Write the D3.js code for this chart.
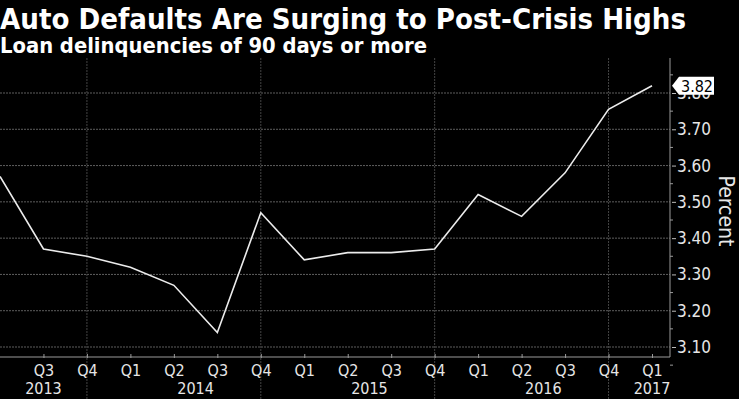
<!DOCTYPE html>
<html><head><meta charset="utf-8">
<script src="https://cdn.jsdelivr.net/npm/d3@7"></script>
<style>
html,body{margin:0;padding:0;background:#000;}
svg{display:block;}
text{font-family:"DejaVu Sans Condensed","Liberation Sans Narrow","DejaVu Sans",sans-serif;}
</style></head>
<body>
<svg id="c" width="739" height="399"></svg>
<script>
const title = "Auto Defaults Are Surging to Post-Crisis Highs";
const subtitle = "Loan delinquencies of 90 days or more";
const quarters = ["Q2","Q3","Q4","Q1","Q2","Q3","Q4","Q1","Q2","Q3","Q4","Q1","Q2","Q3","Q4","Q1"];
const years = [2013,2013,2013,2014,2014,2014,2014,2015,2015,2015,2015,2016,2016,2016,2016,2017];
const values = [3.57,3.37,3.35,3.32,3.27,3.14,3.47,3.34,3.36,3.36,3.37,3.52,3.46,3.58,3.755,3.82];
const yTicks = [3.10,3.20,3.30,3.40,3.50,3.60,3.70,3.80];
const yearLabels = [{year:"2013", from:1, to:1},{year:"2014", from:3, to:6},{year:"2015", from:7, to:10},{year:"2016", from:11, to:14},{year:"2017", from:15, to:15}];
const lastLabel = "3.82";
const yTitle = "Percent";

const FONT = '"DejaVu Sans Condensed","Liberation Sans Narrow","DejaVu Sans",sans-serif';
const svg = d3.select("#c");
const keys = quarters.map((q,i)=>years[i]+" "+q);
const qOf = Object.fromEntries(keys.map((k,i)=>[k,quarters[i]]));
const x = d3.scalePoint().domain(keys).range([0,652]);
const y = d3.scaleLinear().domain([3.10,3.80]).range([347,93]);
const axisX = 670, plotTop = 58, plotBottom = 357;

svg.append("rect").attr("width",739).attr("height",399).attr("fill","#000");

// horizontal gridlines
svg.append("g").selectAll("line").data(yTicks).join("line")
  .attr("x1",0).attr("x2",axisX).attr("y1",d=>y(d)).attr("y2",d=>y(d))
  .attr("stroke","#5e5e5e").attr("stroke-width",1).attr("stroke-dasharray","2,1");

// vertical gridlines at Q4
const q4 = keys.filter((k,i)=>quarters[i]==="Q4");
svg.append("g").selectAll("line").data(q4).join("line")
  .attr("x1",d=>x(d)).attr("x2",d=>x(d)).attr("y1",plotTop).attr("y2",399)
  .attr("stroke","#444").attr("stroke-width",1).attr("stroke-dasharray","2,1");

// bottom axis
const xAxis = d3.axisBottom(x).tickSize(4).tickFormat(d=>qOf[d]).tickValues(keys.slice(1));
const gx = svg.append("g").attr("transform",`translate(0,${plotBottom})`).call(xAxis);
gx.select(".domain").attr("d",`M0,0H${axisX}`).attr("stroke","#9a9a9a");
gx.selectAll(".tick line").attr("stroke","#9a9a9a").attr("y1",-3).attr("y2",1);
gx.selectAll(".tick text").attr("fill","#e6e6e6").attr("font-size",16).attr("dy",0).attr("y",19)
  .style("font-family",FONT);

// year labels
svg.append("g").selectAll("text").data(yearLabels).join("text")
  .attr("x",d=>(x(keys[d.from])+x(keys[d.to]))/2).attr("y",394)
  .attr("text-anchor","middle").attr("fill","#e6e6e6").attr("font-size",16).text(d=>d.year);

// right axis
const yAxis = d3.axisRight(y).tickValues(yTicks).tickFormat(d3.format(".2f")).tickSize(4);
const gy = svg.append("g").attr("transform",`translate(${axisX},0)`).call(yAxis);
gy.select(".domain").attr("d",`M0,${plotTop}V${plotBottom}`).attr("stroke","#9a9a9a");
gy.selectAll(".tick line").attr("stroke","#bbbbbb").attr("x1",2).attr("x2",6);
gy.selectAll(".tick text").attr("fill","#e6e6e6").attr("font-size",17).attr("x",7)
  .style("font-family",FONT);
// minor ticks
const minor = d3.range(3.05,3.86,0.1);
svg.append("g").selectAll("line").data(minor).join("line")
  .attr("x1",axisX).attr("x2",axisX+3).attr("y1",d=>y(d)).attr("y2",d=>y(d)).attr("stroke","#9a9a9a");

svg.append("text").attr("transform",`translate(719,211) rotate(90)`)
  .attr("text-anchor","middle").attr("fill","#e6e6e6").attr("font-size",21).text(yTitle);

// line
const line = d3.line().x((d,i)=>x(keys[i])).y(d=>y(d));
svg.append("path").datum(values).attr("d",line).attr("fill","none")
  .attr("stroke","#ececec").attr("stroke-width",1.6).attr("stroke-linejoin","miter");

// last value label
const ly = y(values[values.length-1]);
const lg = svg.append("g").attr("transform",`translate(${axisX+2},${ly})`);
lg.append("path").attr("d","M0,0 L7,-9 H42 V9 H7 Z").attr("fill","#fff");
lg.append("text").attr("x",25).attr("y",6).attr("text-anchor","middle").attr("fill","#000")
  .attr("font-size",16).text(lastLabel);

// titles
svg.append("text").attr("x",0).attr("y",29).attr("fill","#fff").attr("font-size",29).attr("font-weight","bold")
  .attr("textLength",686).attr("lengthAdjust","spacingAndGlyphs").text(title);
svg.append("text").attr("x",0).attr("y",53).attr("fill","#fff").attr("font-size",21).attr("font-weight","bold")
  .attr("textLength",427).attr("lengthAdjust","spacingAndGlyphs").text(subtitle);
</script>
</body></html>
